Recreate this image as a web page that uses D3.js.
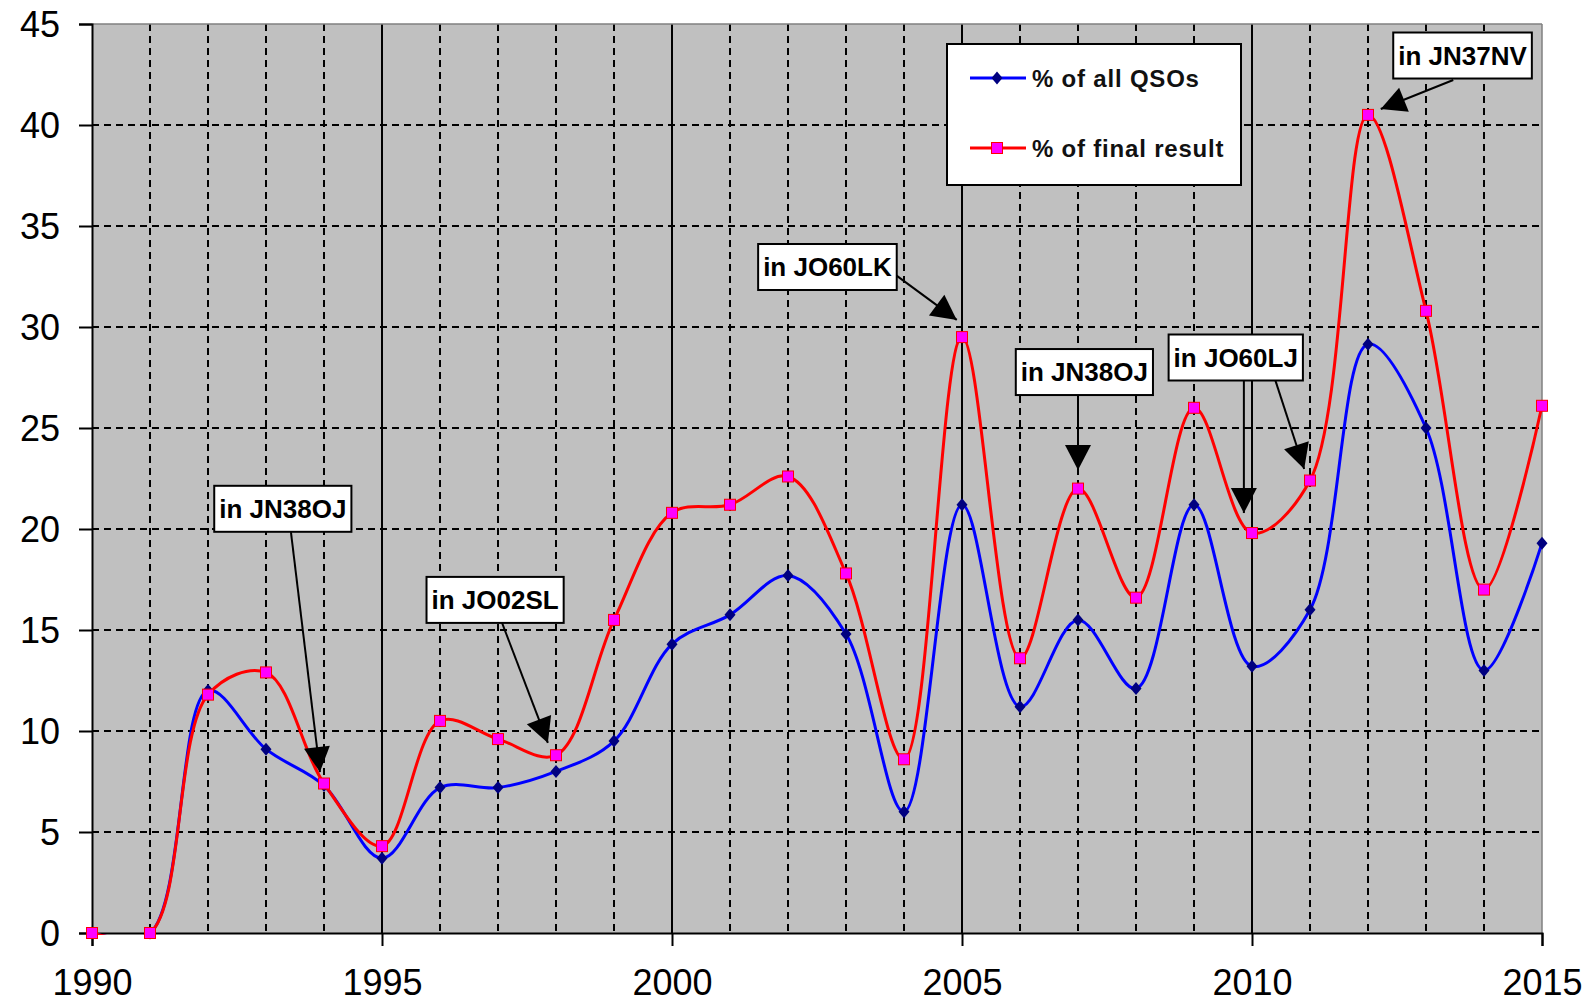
<!DOCTYPE html>
<html>
<head>
<meta charset="utf-8">
<script src="https://cdn.jsdelivr.net/npm/d3@7"></script>
<style>
  body { margin: 0; background: #fff; }
  text { font-family: "Liberation Sans", Arial, sans-serif; }
</style>
</head>
<body>
<div class="chart"></div>
<script>
  // years on the x axis
  const years = [1990, 1991, 1992, 1993, 1994, 1995, 1996, 1997, 1998, 1999,
    2000, 2001, 2002, 2003, 2004, 2005, 2006, 2007, 2008, 2009,
    2010, 2011, 2012, 2013, 2014, 2015];
  const qsoPct = [0, 0, 12.0, 9.1, 7.3, 3.7, 7.2, 7.2, 8.0, 9.5,
    14.3, 15.75, 17.7, 14.8, 6.0, 21.2, 11.2, 15.5, 12.1, 21.2,
    13.2, 16.0, 29.15, 25.0, 13.0, 19.3];
  const resultPct = [0, 0, 11.8, 12.9, 7.4, 4.3, 10.5, 9.6, 8.8, 15.5,
    20.8, 21.2, 22.6, 17.8, 8.6, 29.5, 13.6, 22.0, 16.6, 26.0,
    19.8, 22.4, 40.5, 30.8, 17.0, 26.1];
  const yTicks = [0, 5, 10, 15, 20, 25, 30, 35, 40, 45];
  const xTicks = [1990, 1995, 2000, 2005, 2010, 2015];
  const seriesNames = ["% of all QSOs", "% of final result"];

  // callouts: box centre, arrow start and arrow tip in data units
  const notes = [
    { label: "in JN38OJ", box: [1993.29, 21.0], arrows: [[[1993.43, 19.85], [1993.93, 7.97]]] },
    { label: "in JO02SL", box: [1996.95, 16.49], arrows: [[[1997.07, 15.35], [1997.86, 9.41]]] },
    { label: "in JO60LK", box: [2002.68, 32.97], arrows: [[[2003.86, 32.57], [2004.91, 30.35]]] },
    { label: "in JN38OJ", box: [2007.11, 27.77], arrows: [[[2007.0, 26.63], [2007.0, 22.92]]] },
    { label: "in JO60LJ", box: [2009.72, 28.49], arrows: [[[2009.86, 27.38], [2009.86, 20.79]], [[2010.40, 27.38], [2010.90, 22.97]]] },
    { label: "in JN37NV", box: [2013.63, 43.44], arrows: [[[2013.47, 42.23], [2012.22, 40.79]]] }
  ];

  const W = 1592, H = 1005;
  const pLeft = 92, pTop = 24, pRight = 1542, pBottom = 933;

  const svg = d3.select(".chart").append("svg")
    .attr("width", W)
    .attr("height", H);

  const x = d3.scaleLinear().domain([1990, 2015]).range([pLeft, pRight]);
  const y = d3.scaleLinear().domain([0, 45]).range([pBottom, pTop]);

  // keep the smoothed lines from dipping under the x axis
  svg.append("clipPath").attr("id", "plot-clip")
    .append("rect")
    .attr("x", pLeft - 20).attr("y", pTop - 20)
    .attr("width", pRight - pLeft + 40).attr("height", pBottom - pTop + 22);

  // plot area
  svg.append("rect")
    .attr("x", pLeft).attr("y", pTop)
    .attr("width", pRight - pLeft).attr("height", pBottom - pTop)
    .attr("fill", "#c0c0c0");

  // dashed grid
  svg.selectAll(".vgrid")
    .data(years.filter(d => d % 5 != 0))
    .enter().append("line")
    .attr("class", "vgrid")
    .attr("x1", d => x(d)).attr("x2", d => x(d))
    .attr("y1", pTop).attr("y2", pBottom)
    .attr("stroke", "#000").attr("stroke-width", 2)
    .attr("stroke-dasharray", "7,5");

  svg.selectAll(".hgrid")
    .data(yTicks.filter(d => d > 0 && d < 45))
    .enter().append("line")
    .attr("class", "hgrid")
    .attr("x1", pLeft).attr("x2", pRight)
    .attr("y1", d => y(d)).attr("y2", d => y(d))
    .attr("stroke", "#000").attr("stroke-width", 2)
    .attr("stroke-dasharray", "7,5");

  // solid lines every five years
  svg.selectAll(".major")
    .data(xTicks.filter(d => d > 1990 && d < 2015))
    .enter().append("line")
    .attr("class", "major")
    .attr("x1", d => x(d)).attr("x2", d => x(d))
    .attr("y1", pTop).attr("y2", pBottom)
    .attr("stroke", "#000").attr("stroke-width", 2);

  // frame
  svg.append("line").attr("x1", pLeft).attr("x2", pRight).attr("y1", pTop).attr("y2", pTop)
    .attr("stroke", "#808080").attr("stroke-width", 1.5);
  svg.append("line").attr("x1", pRight).attr("x2", pRight).attr("y1", pTop).attr("y2", pBottom)
    .attr("stroke", "#808080").attr("stroke-width", 1.5);

  // axes
  const yAxis = svg.append("g")
    .attr("transform", `translate(${pLeft},0)`)
    .call(d3.axisLeft(y).tickValues(yTicks).tickSize(13).tickPadding(19));
  const xAxis = svg.append("g")
    .attr("transform", `translate(0,${pBottom})`)
    .call(d3.axisBottom(x).tickValues(xTicks).tickFormat(d3.format("d")).tickSize(13).tickPadding(23));

  [yAxis, xAxis].forEach(g => {
    g.select(".domain").attr("stroke", "#000").attr("stroke-width", 2);
    g.selectAll(".tick line").attr("stroke", "#000").attr("stroke-width", 2);
    g.selectAll(".tick text")
      .attr("fill", "#000")
      .attr("font-size", "36px")
      .attr("font-family", "Liberation Sans, Arial, sans-serif");
  });
  yAxis.selectAll(".tick text").attr("dy", "0.36em");
  xAxis.selectAll(".tick text").attr("dy", "0.71em");

  // lines
  const qsoData = years.map((d, i) => ({ year: d, value: qsoPct[i] }));
  const resultData = years.map((d, i) => ({ year: d, value: resultPct[i] }));

  const line = d3.line()
    .x(d => x(d.year))
    .y(d => y(d.value))
    .curve(d3.curveCatmullRom.alpha(0.5));

  const diamond = (cx, cy) => `M${cx},${cy - 6.5}L${cx + 5.5},${cy}L${cx},${cy + 6.5}L${cx - 5.5},${cy}Z`;

  svg.append("path")
    .datum(qsoData)
    .attr("d", line)
    .attr("clip-path", "url(#plot-clip)")
    .attr("fill", "none")
    .attr("stroke", "#0000ff")
    .attr("stroke-width", 3);

  svg.selectAll(".qso-pt")
    .data(qsoData)
    .enter().append("path")
    .attr("class", "qso-pt")
    .attr("d", d => diamond(x(d.year), y(d.value)))
    .attr("fill", "#000080");

  svg.append("path")
    .datum(resultData)
    .attr("d", line)
    .attr("clip-path", "url(#plot-clip)")
    .attr("fill", "none")
    .attr("stroke", "#ff0000")
    .attr("stroke-width", 3);

  svg.selectAll(".res-pt")
    .data(resultData)
    .enter().append("rect")
    .attr("class", "res-pt")
    .attr("x", d => x(d.year) - 5.5)
    .attr("y", d => y(d.value) - 5.5)
    .attr("width", 11).attr("height", 11)
    .attr("fill", "#ff00ff")
    .attr("stroke", "#ff0000")
    .attr("stroke-width", 1);

  // callouts
  const arrowHead = (p0, p1) => {
    const dx = p1[0] - p0[0], dy = p1[1] - p0[1];
    const len = Math.sqrt(dx * dx + dy * dy);
    const ux = dx / len, uy = dy / len;
    const bx = p1[0] - ux * 25, by = p1[1] - uy * 25;
    return `M${p1[0]},${p1[1]}L${bx - uy * 13},${by + ux * 13}L${bx + uy * 13},${by - ux * 13}Z`;
  };

  notes.forEach(n => {
    n.arrows.forEach(a => {
      const p0 = [x(a[0][0]), y(a[0][1])];
      const p1 = [x(a[1][0]), y(a[1][1])];
      svg.append("line")
        .attr("x1", p0[0]).attr("y1", p0[1])
        .attr("x2", p1[0]).attr("y2", p1[1])
        .attr("stroke", "#000").attr("stroke-width", 2);
      svg.append("path")
        .attr("d", arrowHead(p0, p1))
        .attr("fill", "#000");
    });
    const g = svg.append("g");
    const cx = x(n.box[0]), cy = y(n.box[1]);
    const box = g.append("rect")
      .attr("fill", "#fff")
      .attr("stroke", "#000")
      .attr("stroke-width", 2);
    const t = g.append("text")
      .attr("x", cx).attr("y", cy)
      .attr("dy", "0.36em")
      .attr("text-anchor", "middle")
      .attr("font-size", "26px")
      .attr("font-weight", "bold")
      .attr("fill", "#000")
      .text(n.label);
    const tw = t.node().getComputedTextLength();
    box.attr("x", cx - tw / 2 - 5).attr("y", cy - 23)
      .attr("width", tw + 10).attr("height", 46);
  });

  // legend
  const legend = svg.append("g");
  legend.append("rect")
    .attr("x", 947).attr("y", 44)
    .attr("width", 294).attr("height", 141)
    .attr("fill", "#fff")
    .attr("stroke", "#000")
    .attr("stroke-width", 2);

  const legendRows = [
    { name: seriesNames[0], color: "#0000ff", y: 78, mark: "diamond" },
    { name: seriesNames[1], color: "#ff0000", y: 148, mark: "square" }
  ];
  legendRows.forEach(r => {
    legend.append("line")
      .attr("x1", 970).attr("x2", 1026)
      .attr("y1", r.y).attr("y2", r.y)
      .attr("stroke", r.color).attr("stroke-width", 3);
    if (r.mark == "diamond") {
      legend.append("path").attr("d", diamond(997, r.y)).attr("fill", "#000080");
    } else {
      legend.append("rect")
        .attr("x", 991.5).attr("y", r.y - 5.5)
        .attr("width", 11).attr("height", 11)
        .attr("fill", "#ff00ff").attr("stroke", "#ff0000");
    }
    legend.append("text")
      .attr("x", 1032).attr("y", r.y)
      .attr("dy", "0.36em")
      .attr("font-size", "24px")
      .attr("font-weight", "bold")
      .attr("letter-spacing", "0.8px")
      .attr("fill", "#111")
      .text(r.name);
  });
</script>
</body>
</html>
